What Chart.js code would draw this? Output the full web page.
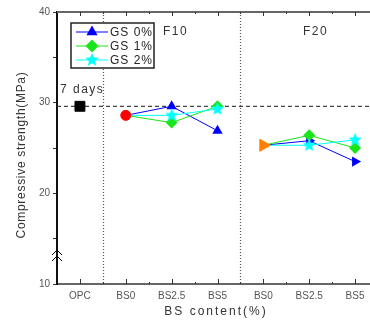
<!DOCTYPE html>
<html>
<head>
<meta charset="utf-8">
<script src="https://cdn.jsdelivr.net/npm/chart.js@4"></script>
<style>
  body { margin: 0; background: #fff; overflow: hidden; }
  #wrap { width: 370px; height: 323px; overflow: hidden; }
</style>
</head>
<body>
<div id="wrap"><canvas id="strengthChart" width="386" height="323"></canvas></div>
<script>
const labels = ["OPC", "BS0", "BS2.5", "BS5", "BS0", "BS2.5", "BS5"];
const legendNames = ["GS 0%", "GS 1%", "GS 2%"];

const opcValue = [29.6];
const f10Base = [28.6];
const f20Base = [25.3];

const gs0F10 = [29.6, 26.9];
const gs1F10 = [27.8, 29.6];
const gs2F10 = [28.6, 29.3];

const gs0F20 = [25.8, 23.5];
const gs1F20 = [26.4, 25.0];
const gs2F20 = [25.3, 25.9];

const refLine = 29.6;
const yTicks = [10, 20, 30, 40];

const BLUE = "#0000ff";
const GREEN = "#19e619";
const CYAN = "#00ffff";

// filled five point star, chart.js "star" is only strokes
function makeStar(color, r) {
  const c = document.createElement("canvas");
  c.width = c.height = Math.ceil(r * 2 + 2);
  const g = c.getContext("2d");
  const cx = c.width / 2, cy = c.height / 2;
  g.beginPath();
  for (let i = 0; i < 10; i++) {
    const rr = i % 2 === 0 ? r : r * 0.45;
    const a = -Math.PI / 2 + i * Math.PI / 5;
    g.lineTo(cx + rr * Math.cos(a), cy + rr * Math.sin(a));
  }
  g.closePath();
  g.fillStyle = color;
  g.fill();
  return c;
}
const starImg = makeStar(CYAN, 7);

function row(start, base, vals) {
  const arr = labels.map(() => null);
  arr[start] = base;
  arr[start + 1] = vals[0];
  arr[start + 2] = vals[1];
  return arr;
}
function single(idx, v) {
  const arr = labels.map(() => null);
  arr[idx] = v;
  return arr;
}
const hideFirst = (start, r) => (ctx) => (ctx.dataIndex === start ? 0 : r);

function series(data, start, color, style, rot) {
  return {
    data: data,
    borderColor: color,
    backgroundColor: color,
    borderWidth: 1,
    pointStyle: style,
    rotation: rot || 0,
    pointRadius: hideFirst(start, 6),
    pointHoverRadius: hideFirst(start, 6),
    pointBorderWidth: 0,
    spanGaps: false
  };
}

const datasets = [
  { data: single(1, f10Base[0]), pointStyle: "circle", pointRadius: 5, backgroundColor: "#ff0000", borderColor: "#ff0000", showLine: false },
  { data: single(4, f20Base[0]), pointStyle: "triangle", rotation: 90, pointRadius: 7, backgroundColor: "#ff8000", borderColor: "#ff8000", showLine: false },
  { data: single(0, opcValue[0]), pointStyle: "rect", pointRadius: 7, backgroundColor: "#000", borderColor: "#000", showLine: false },
  series(row(1, f10Base[0], gs2F10), 1, CYAN, starImg),
  series(row(4, f20Base[0], gs2F20), 4, CYAN, starImg),
  series(row(1, f10Base[0], gs1F10), 1, GREEN, "rectRot"),
  series(row(4, f20Base[0], gs1F20), 4, GREEN, "rectRot"),
  series(row(1, f10Base[0], gs0F10), 1, BLUE, "triangle"),
  series(row(4, f20Base[0], gs0F20), 4, BLUE, "triangle", 90)
];

function textSpaced(ctx, str, x, y, spacing, align) {
  ctx.save();
  if ("letterSpacing" in ctx) ctx.letterSpacing = spacing + "px";
  ctx.textAlign = align || "left";
  ctx.fillText(str, x, y);
  ctx.restore();
}

const decorations = {
  id: "decorations",
  beforeDatasetsDraw(chart) {
    const { ctx, chartArea: a, scales } = chart;
    const xs = scales.x, ys = scales.y;
    ctx.save();
    // 7 day OPC reference
    const yr = ys.getPixelForValue(refLine);
    ctx.strokeStyle = "#444";
    ctx.lineWidth = 1.2;
    ctx.setLineDash([4, 3]);
    ctx.beginPath();
    ctx.moveTo(a.left, yr);
    ctx.lineTo(a.right, yr);
    ctx.stroke();
    // group separators
    ctx.setLineDash([1, 2]);
    ctx.strokeStyle = "#555";
    [0, 3].forEach((i) => {
      const xp = (xs.getPixelForValue(i) + xs.getPixelForValue(i + 1)) / 2;
      ctx.beginPath();
      ctx.moveTo(Math.round(xp) + 0.5, a.top);
      ctx.lineTo(Math.round(xp) + 0.5, a.bottom);
      ctx.stroke();
    });
    ctx.restore();
  },
  afterDraw(chart) {
    const { ctx, chartArea: a, scales } = chart;
    const xs = scales.x;
    ctx.save();
    // top frame
    ctx.strokeStyle = "#666";
    ctx.lineWidth = 2;
    ctx.beginPath();
    ctx.moveTo(a.left, a.top);
    ctx.lineTo(a.right, a.top);
    ctx.stroke();
    // inward x ticks, top and bottom
    ctx.strokeStyle = "#333";
    ctx.lineWidth = 1;
    labels.forEach((l, i) => {
      const xp = Math.round(xs.getPixelForValue(i)) + 0.5;
      ctx.beginPath();
      ctx.moveTo(xp, a.bottom);
      ctx.lineTo(xp, a.bottom - 5);
      ctx.moveTo(xp, a.top);
      ctx.lineTo(xp, a.top + 4);
      ctx.stroke();
      if (i < labels.length - 1) {
        const xm = Math.round((xs.getPixelForValue(i) + xs.getPixelForValue(i + 1)) / 2) + 0.5;
        ctx.beginPath();
        ctx.moveTo(xm, a.bottom);
        ctx.lineTo(xm, a.bottom - 2);
        ctx.moveTo(xm, a.top);
        ctx.lineTo(xm, a.top + 2);
        ctx.stroke();
      }
    });
    // axis break mark
    ctx.strokeStyle = "#000";
    ctx.lineWidth = 1;
    [250, 256].forEach((yy) => {
      ctx.beginPath();
      ctx.moveTo(a.left - 5, yy + 5);
      ctx.lineTo(a.left, yy);
      ctx.lineTo(a.left + 5, yy + 5);
      ctx.stroke();
    });

    // texts
    ctx.fillStyle = "#333";
    ctx.textBaseline = "middle";
    ctx.font = "12px 'Liberation Sans', Arial, sans-serif";
    textSpaced(ctx, "7 days", 60, 90, 1.5);
    textSpaced(ctx, "F10", 163, 32, 1.5);
    textSpaced(ctx, "F20", 303, 32, 1.5);

    // axis titles
    ctx.font = "12px 'Liberation Sans', Arial, sans-serif";
    ctx.fillStyle = "#333";
    textSpaced(ctx, "BS content(%)", 216, 312, 2, "center");
    ctx.save();
    ctx.translate(22, 155);
    ctx.rotate(-Math.PI / 2);
    textSpaced(ctx, "Compressive strength(MPa)", 0, 0, 0.7, "center");
    ctx.restore();

    // legend box
    ctx.fillStyle = "#fff";
    ctx.fillRect(71, 23, 83, 45);
    ctx.strokeStyle = "#222";
    ctx.lineWidth = 1.5;
    ctx.strokeRect(71, 23, 83, 45);
    const colors = [BLUE, GREEN, CYAN];
    const rowsY = [32, 46, 60];
    rowsY.forEach((yy, i) => {
      ctx.strokeStyle = colors[i];
      ctx.lineWidth = 1;
      ctx.beginPath();
      ctx.moveTo(76, yy);
      ctx.lineTo(108, yy);
      ctx.stroke();
      ctx.fillStyle = colors[i];
      ctx.beginPath();
      if (i === 0) {
        ctx.moveTo(92, yy - 6.5);
        ctx.lineTo(97.6, yy + 3.3);
        ctx.lineTo(86.4, yy + 3.3);
        ctx.closePath();
        ctx.fill();
      } else if (i === 1) {
        ctx.moveTo(92, yy - 6.5);
        ctx.lineTo(98.5, yy);
        ctx.lineTo(92, yy + 6.5);
        ctx.lineTo(85.5, yy);
        ctx.closePath();
        ctx.fill();
      } else {
        ctx.drawImage(starImg, 92 - starImg.width / 2, yy - starImg.height / 2);
      }
      ctx.fillStyle = "#222";
      ctx.font = "12px 'Liberation Sans', Arial, sans-serif";
      textSpaced(ctx, legendNames[i], 110, yy + 1, 1);
    });
    ctx.restore();
  }
};

const ctx = document.getElementById("strengthChart").getContext("2d");
const chart = new Chart(ctx, {
  type: "line",
  data: { labels: labels, datasets: datasets },
  options: {
    responsive: false,
    animation: false,
    layout: { padding: { left: 0, right: 3, top: 12, bottom: 0 } },
    plugins: { legend: { display: false }, tooltip: { enabled: false } },
    scales: {
      x: {
        type: "category",
        offset: true,
        afterFit(s) { s.height = 39; },
        grid: { display: false, drawTicks: false },
        border: { display: true, color: "#666", width: 2 },
        ticks: {
          color: "#555",
          padding: 6,
          maxRotation: 0,
          autoSkip: false,
          font: { family: "'Liberation Sans', Arial, sans-serif", size: 10 }
        }
      },
      y: {
        min: 10,
        max: 40,
        afterFit(s) { s.width = 57; },
        grid: { drawOnChartArea: false, tickLength: 4, color: "#333" },
        border: { display: true, color: "#111", width: 2 },
        ticks: {
          stepSize: 5,
          padding: 3,
          color: "#555",
          font: { family: "'Liberation Sans', Arial, sans-serif", size: 10 },
          callback: (v) => (yTicks.includes(v) ? v : "")
        }
      }
    }
  },
  plugins: [decorations]
});
</script>
</body>
</html>
